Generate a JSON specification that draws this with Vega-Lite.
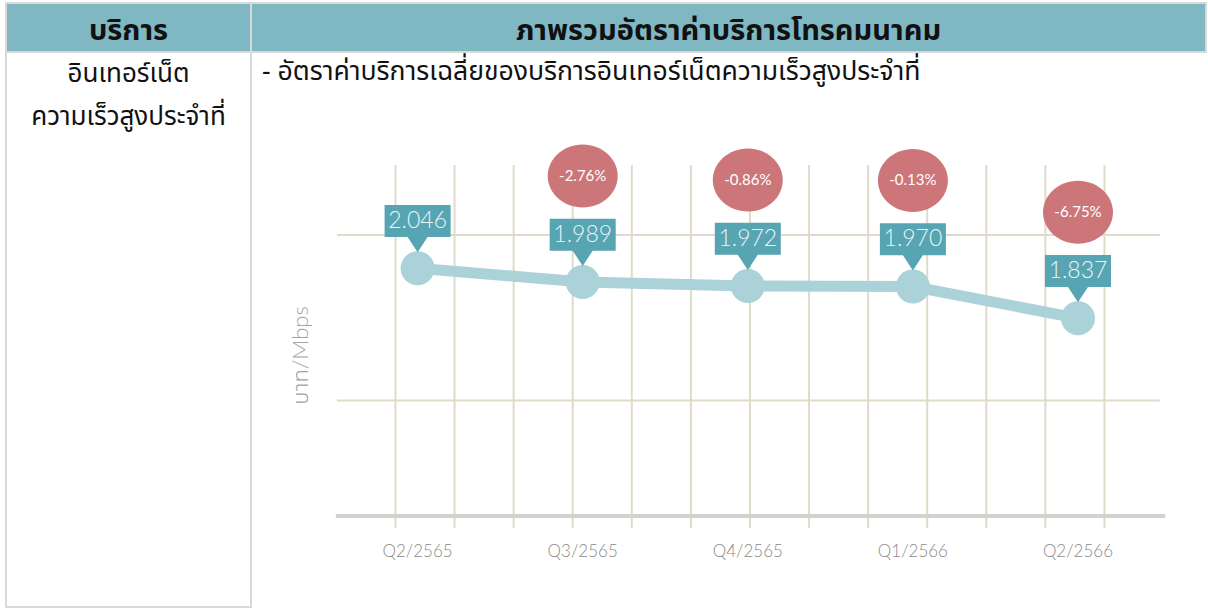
{
  "$schema": "https://vega.github.io/schema/vega-lite/v6.json",
  "padding": {"left": 5, "top": 2, "right": 0, "bottom": 0},
  "background": "white",
  "columns": 2,
  "spacing": 0,
  "bounds": "flush",
  "config": {
    "view": {"stroke": null},
    "locale": {"number": {"decimal": ".", "thousands": ",", "grouping": [3], "currency": ["", ""], "minus": "-"}}
  },
  "concat": [
    {
      "width": 245,
      "height": 49,
      "view": {"fill": "#7fb8c3", "stroke": "#d9d9d9", "strokeWidth": 2},
      "data": {"values": [{"header": "บริการ"}]},
      "mark": {"type": "text", "font": "Tahoma, Leelawadee UI, Noto Sans Thai, Loma, Garuda, sans-serif", "fontSize": 29, "fontWeight": "bold", "color": "#111111", "dy": 3},
      "encoding": {"text": {"field": "header", "type": "nominal"}}
    },
    {
      "width": 955,
      "height": 49,
      "view": {"fill": "#7fb8c3", "stroke": "#d9d9d9", "strokeWidth": 2},
      "data": {"values": [{"header": "ภาพรวมอัตราค่าบริการโทรคมนาคม"}]},
      "mark": {"type": "text", "font": "Tahoma, Leelawadee UI, Noto Sans Thai, Loma, Garuda, sans-serif", "fontSize": 29, "fontWeight": "bold", "color": "#111111", "dy": 3},
      "encoding": {"text": {"field": "header", "type": "nominal"}}
    },
    {
      "width": 245,
      "height": 555,
      "view": {"stroke": "#d9d9d9", "strokeWidth": 2},
      "data": {"values": [{"service": "อินเทอร์เน็ต\nความเร็วสูงประจำที่"}]},
      "mark": {"type": "text", "font": "Tahoma, Leelawadee UI, Noto Sans Thai, Loma, Garuda, sans-serif", "fontSize": 26, "color": "#111111", "lineBreak": "\n", "lineHeight": 43, "dy": -256},
      "encoding": {"text": {"field": "service", "type": "nominal"}}
    },
    {
      "width": 955,
      "height": 555,
      "view": {"stroke": null},
      "title": {
        "text": "- อัตราค่าบริการเฉลี่ยของบริการอินเทอร์เน็ตความเร็วสูงประจำที่",
        "anchor": "start",
        "frame": "group",
        "orient": "top",
        "baseline": "middle",
        "offset": -47,
        "dx": 11,
        "font": "Tahoma, Leelawadee UI, Noto Sans Thai, Loma, Garuda, sans-serif",
        "fontSize": 26.6,
        "fontWeight": "normal",
        "color": "#111111"
      },
      "resolve": {"scale": {"x": "independent"}},
      "layer": [
        {
          "layer": [
            {
              "data": {"values": [{"col": 1}, {"col": 2}, {"col": 3}, {"col": 4}, {"col": 5}, {"col": 6}, {"col": 7}, {"col": 8}, {"col": 9}, {"col": 10}, {"col": 11}, {"col": 12}, {"col": 13}]},
              "mark": {"type": "rule", "color": "#e0dbc9", "strokeWidth": 2},
              "encoding": {
                "x": {"field": "col", "type": "quantitative", "scale": {"domain": [-1.4455, 14.719], "nice": false, "zero": false}, "axis": null},
                "y": {"datum": 2.4779, "type": "quantitative", "scale": {"domain": [0.63, 2.9503], "nice": false, "zero": false}},
                "y2": {"datum": 0.9603}
              }
            },
            {
              "data": {"values": [{"level": 2.1852}, {"level": 1.4933}]},
              "mark": {"type": "rule", "color": "#e0dbc9", "strokeWidth": 2},
              "encoding": {
                "x": {"datum": 0.01, "type": "quantitative", "scale": {"domain": [-1.4455, 14.719], "nice": false, "zero": false}, "axis": null},
                "x2": {"datum": 13.94},
                "y": {"field": "level", "type": "quantitative", "scale": {"domain": [0.63, 2.9503], "nice": false, "zero": false}}
              }
            },
            {
              "data": {"values": [{"baseline": 1.0105}]},
              "mark": {"type": "rule", "color": "#d2d2cf", "strokeWidth": 4},
              "encoding": {
                "x": {"datum": -0.01, "type": "quantitative", "scale": {"domain": [-1.4455, 14.719], "nice": false, "zero": false}, "axis": null},
                "x2": {"datum": 14.03},
                "y": {"field": "baseline", "type": "quantitative", "scale": {"domain": [0.63, 2.9503], "nice": false, "zero": false}}
              }
            }
          ]
        },
        {
          "data": {"values": [
            {"quarter": "Q2/2565", "value": 2.046, "change": null},
            {"quarter": "Q3/2565", "value": 1.989, "change": -0.0276},
            {"quarter": "Q4/2565", "value": 1.972, "change": -0.0086},
            {"quarter": "Q1/2566", "value": 1.970, "change": -0.0013},
            {"quarter": "Q2/2566", "value": 1.837, "change": -0.0675}
          ]},
          "encoding": {
            "x": {"field": "quarter", "type": "ordinal", "sort": null, "scale": {"type": "point", "padding": 0.8922, "align": 0.5655}, "axis": null}
          },
          "layer": [
            {
              "mark": {"type": "line", "color": "#acd2d9", "strokeWidth": 11},
              "encoding": {
                "y": {"field": "value", "type": "quantitative", "scale": {"domain": [0.63, 2.9503], "nice": false, "zero": false},
                  "axis": {"title": "บาท/Mbps", "labels": false, "ticks": false, "domain": false, "grid": false, "titleX": 49, "titleY": 303, "titleBaseline": "middle", "titleAlign": "center", "titleFont": "Lato, Tahoma, Noto Sans Thai, sans-serif", "titleFontSize": 22, "titleFontWeight": 300, "titleColor": "#a3a3a3"}},
                "order": {"value": null}
              }
            },
            {
              "mark": {"type": "circle", "size": 1156, "color": "#acd2d9", "opacity": 1},
              "encoding": {"y": {"field": "value", "type": "quantitative"}}
            },
            {
              "mark": {"type": "point", "shape": "M-1,-1.918L1,-1.918L1,-0.948L0.303,-0.948L0,-0.485L-0.303,-0.948L-1,-0.948Z", "size": 4356, "filled": true, "color": "#57a4b2", "opacity": 1, "strokeWidth": 0},
              "encoding": {"y": {"field": "value", "type": "quantitative"}}
            },
            {
              "mark": {"type": "text", "dy": -47, "font": "Lato", "fontSize": 23, "fontWeight": 300, "color": "#eaf5f7"},
              "encoding": {"y": {"field": "value", "type": "quantitative"}, "text": {"field": "value", "type": "quantitative", "format": ".3f"}}
            },
            {
              "transform": [{"filter": "datum.change != null"}],
              "mark": {"type": "point", "shape": "M-1,-3.029A1,0.9 0 1 1 1,-3.029A1,0.9 0 1 1 -1,-3.029Z", "size": 4900, "filled": true, "color": "#cc767a", "opacity": 1, "strokeWidth": 0},
              "encoding": {"y": {"field": "value", "type": "quantitative"}}
            },
            {
              "transform": [{"filter": "datum.change != null"}],
              "mark": {"type": "text", "dy": -106, "font": "Lato", "fontSize": 15, "color": "#ffffff"},
              "encoding": {"y": {"field": "value", "type": "quantitative"}, "text": {"field": "change", "type": "quantitative", "format": ".2%"}}
            },
            {
              "mark": {"type": "text", "font": "Lato", "fontSize": 17, "fontWeight": 300, "color": "#8a8a8a"},
              "encoding": {"y": {"datum": 0.86, "type": "quantitative"}, "text": {"field": "quarter", "type": "nominal"}}
            }
          ]
        }
      ]
    }
  ]
}
